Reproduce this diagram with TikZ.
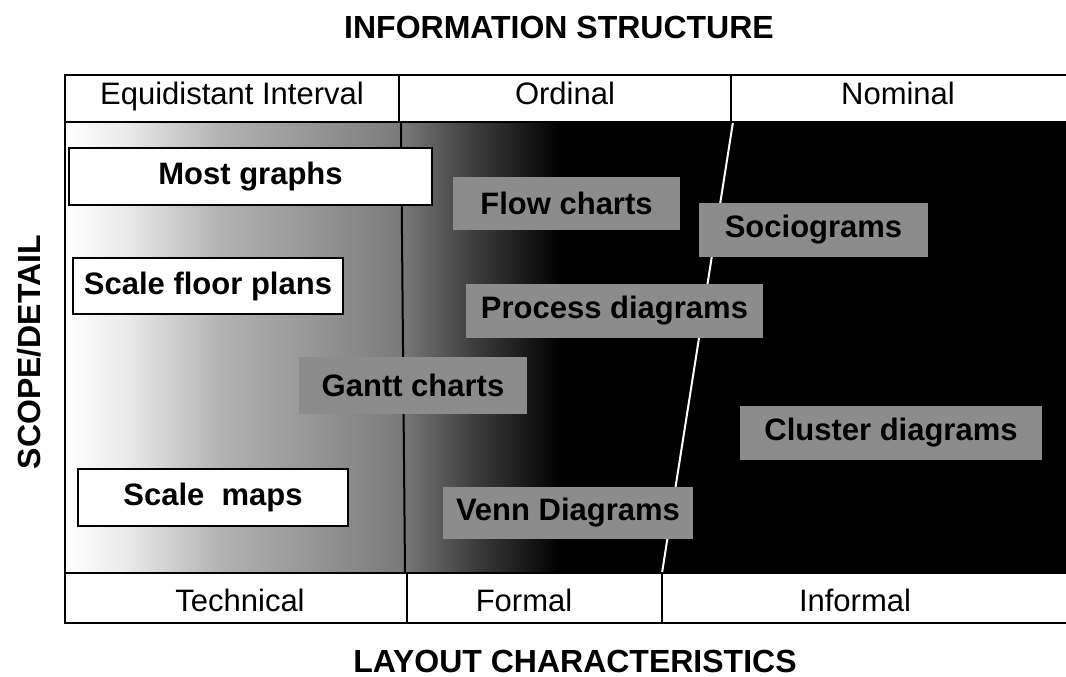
\documentclass[tikz,border=0pt]{standalone}
\usepackage{fontspec}
\setmainfont{Liberation Sans}

\begin{document}
\begin{tikzpicture}[x=0.5pt, y=-0.5pt,
    gridline/.style={line width=1pt, draw=black},
    celltext/.style={font=\fontsize{15.5}{18}\selectfont, inner sep=0pt, anchor=base},
    heading/.style={font=\fontsize{16}{19}\selectfont\bfseries, inner sep=0pt, anchor=base},
    whitebox/.style={rectangle, draw=black, line width=0.8pt, fill=white, inner sep=0pt, font=\fontsize{15.5}{18}\selectfont\bfseries},
    graybox/.style={rectangle, fill=black!45, inner sep=0pt, font=\fontsize{15.5}{18}\selectfont\bfseries}]

    \useasboundingbox (0,0) rectangle (1066,676);

    % shading of the scope area, light on the left, black on the right
    \foreach \xa/\xb/\ca/\cb in {65/125/white/black!8, 125/220/black!8/black!30, 220/400/black!30/black!52, 400/470/black!52/black!75, 470/560/black!75/black}
        \shade[left color=\ca, right color=\cb] (\xa,122) rectangle (\xb+1,573);
    \fill[black] (560,122) rectangle (1070,573);

    % column dividers through the area
    \coordinate (ltop) at (401,122);
    \coordinate (lbot) at (405,573);
    \coordinate (rtop) at (733,122);
    \coordinate (rbot) at (662,573);
    \draw[line width=1pt] (ltop) -- (lbot);
    \draw[white, line width=1pt] (rtop) -- (rbot);

    % header and footer rows
    \draw[gridline] (1070,75) -- (65,75) -- (65,623) -- (1070,623);
    \draw[gridline] (65,122) -- (1070,122);
    \draw[gridline] (65,573) -- (1070,573);
    \draw[gridline] (399,75) -- (399,122);
    \draw[gridline] (731,75) -- (731,122);
    \draw[gridline] (407,573) -- (407,623);
    \draw[gridline] (662,573) -- (662,623);

    \node[celltext] (equi) at (232,104) {Equidistant Interval};
    \node[celltext] (ordinal) at (565,104) {Ordinal};
    \node[celltext] (nominal) at (898,104) {Nominal};
    \node[celltext] (technical) at (240,611) {Technical};
    \node[celltext] (formal) at (524,611) {Formal};
    \node[celltext] (informal) at (855,611) {Informal};

    % titles
    \node[heading] (infostruct) at (559,38) {INFORMATION STRUCTURE};
    \node[heading] (layout) at (575,672) {LAYOUT CHARACTERISTICS};
    \node[heading, rotate=90] (scope) at (40,352) {SCOPE/DETAIL};

    % diagram types
    \node[whitebox, minimum width=181.5pt, minimum height=28.5pt] (mostgraphs) at (250.5,176.5) {Most graphs};
    \node[whitebox, minimum width=135pt, minimum height=28pt] (floorplans) at (208,286) {Scale floor plans};
    \node[whitebox, minimum width=135pt, minimum height=28.5pt] (scalemaps) at (213,497.5) {Scale\ \ maps};
    \node[graybox, minimum width=114pt, minimum height=28.5pt] (gantt) at (413,385.5) {Gantt charts};
    \node[graybox, minimum width=113.5pt, minimum height=26.5pt] (flowcharts) at (566.5,203.5) {Flow charts};
    \node[graybox, minimum width=148.5pt, minimum height=27pt] (process) at (614.5,311) {Process diagrams};
    \node[graybox, minimum width=125pt, minimum height=26pt] (venn) at (568,513) {Venn Diagrams};
    \node[graybox, minimum width=114.5pt, minimum height=27pt] (sociograms) at (813.5,230) {Sociograms};
    \node[graybox, minimum width=151pt, minimum height=27pt] (cluster) at (891,433) {Cluster diagrams};
\end{tikzpicture}
\end{document}
